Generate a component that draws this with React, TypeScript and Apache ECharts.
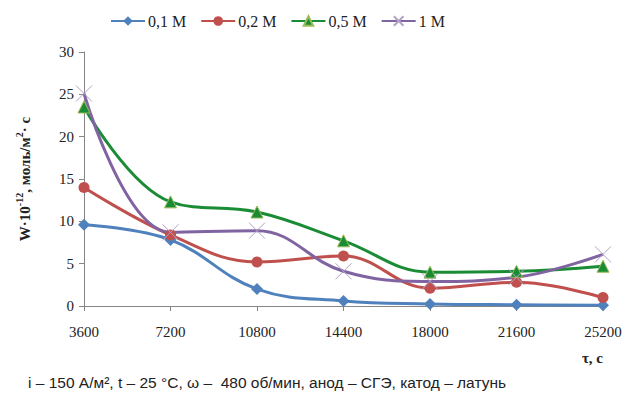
import React, { useEffect, useRef } from "react";
import * as echarts from "echarts";

const times = [3600, 7200, 10800, 14400, 18000, 21600, 25200];
const s01 = [9.6, 7.8, 2.0, 0.6, 0.25, 0.15, 0.1];
const s02 = [14.0, 8.4, 5.2, 5.9, 2.1, 2.8, 1.0];
const s05 = [23.5, 12.3, 11.1, 7.7, 4.0, 4.1, 4.7];
const s1 = [25.1, 8.7, 8.9, 4.1, 2.9, 3.4, 6.1];
const names = ["0,1 M", "0,2 M", "0,5 M", "1 M"];

const serif = "Liberation Serif";
const sans = "Liberation Sans";

export default function App() {
  const ref = useRef<HTMLDivElement>(null);
  useEffect(() => {
    if (!ref.current) return;
    const chart = echarts.init(ref.current, null, { renderer: "svg" });
    const pair = (arr: number[]) => times.map((t, i) => [t, arr[i]]);
    const mk = (name: string, data: number[], color: string, symbol: string, size: number, symColor?: string, symBorder?: string) => ({
      name,
      type: "line",
      data: pair(data),
      smooth: 0.4,
      symbol,
      symbolSize: size,
      lineStyle: { color, width: 3 },
      itemStyle: { color: symColor || color, borderColor: symBorder || symColor || color, borderWidth: symBorder ? 1 : 0 },
      z: 2,
    });
    chart.setOption({
      animation: false,
      backgroundColor: "#fff",
      legend: {
        top: 8,
        left: 105,
        itemWidth: 34,
        itemHeight: 12,
        itemGap: 14,
        textStyle: { fontFamily: serif, fontSize: 16, color: "#222", padding: [0, 0, 0, -2] },
        data: names,
      },
      grid: { left: 84, right: 26, top: 52, bottom: 90 },
      xAxis: {
        type: "value",
        min: 3600,
        max: 25200,
        interval: 3600,
        splitLine: { show: false },
        axisLine: { lineStyle: { color: "#868686" } },
        axisTick: { show: true, length: 5, lineStyle: { color: "#868686" } },
        axisLabel: { fontFamily: serif, fontSize: 15, color: "#222", margin: 18, formatter: (v: number) => String(v) },
        name: "τ, с",
        nameLocation: "end",
        nameGap: 0,
        nameTextStyle: { fontFamily: serif, fontSize: 15, fontWeight: "bold", color: "#222", align: "right", verticalAlign: "top", padding: [44, 0, 0, 0] },
      },
      yAxis: {
        type: "value",
        min: 0,
        max: 30,
        interval: 5,
        splitLine: { show: false },
        axisLine: { show: true, lineStyle: { color: "#868686" } },
        axisTick: { show: true, length: 5, lineStyle: { color: "#868686" } },
        axisLabel: { fontFamily: serif, fontSize: 15, color: "#222", margin: 10 },
        name: "{b|W·10}{s|-12}{b|, моль/м}{s|2}{b|· с}",
        nameLocation: "middle",
        nameRotate: 90,
        nameGap: 52,
        nameTextStyle: {
          rich: {
            b: { fontFamily: serif, fontSize: 15, fontWeight: "bold", color: "#222", verticalAlign: "bottom", lineHeight: 18 },
            s: { fontFamily: serif, fontSize: 10, fontWeight: "bold", color: "#222", verticalAlign: "top", lineHeight: 18 },
          },
        },
      },
      series: [
        mk(names[0], s01, "#4F81BD", "diamond", 12),
        mk(names[1], s02, "#C0504D", "circle", 11),
        mk(names[2], s05, "#1A8C35", "triangle", 12, "#1A8C35", "#9BBB59"),
        mk(names[3], s1, "#8064A2", "path://M0,0 L10,10 M10,0 L0,10", 16, "#B3A2C7", "#B3A2C7"),
      ],
      graphic: [
        {
          type: "text",
          left: 28,
          top: 374,
          style: {
            text: "i – 150 А/м², t – 25 °С, ω –  480 об/мин, анод – СГЭ, катод – латунь",
            fontFamily: sans,
            fontSize: 15.5,
            fill: "#222",
          },
        },
      ],
    });
    return () => chart.dispose();
  }, []);
  return <div ref={ref} style={{ width: 629, height: 396, position: "absolute", left: 0, top: 0 }} />;
}
